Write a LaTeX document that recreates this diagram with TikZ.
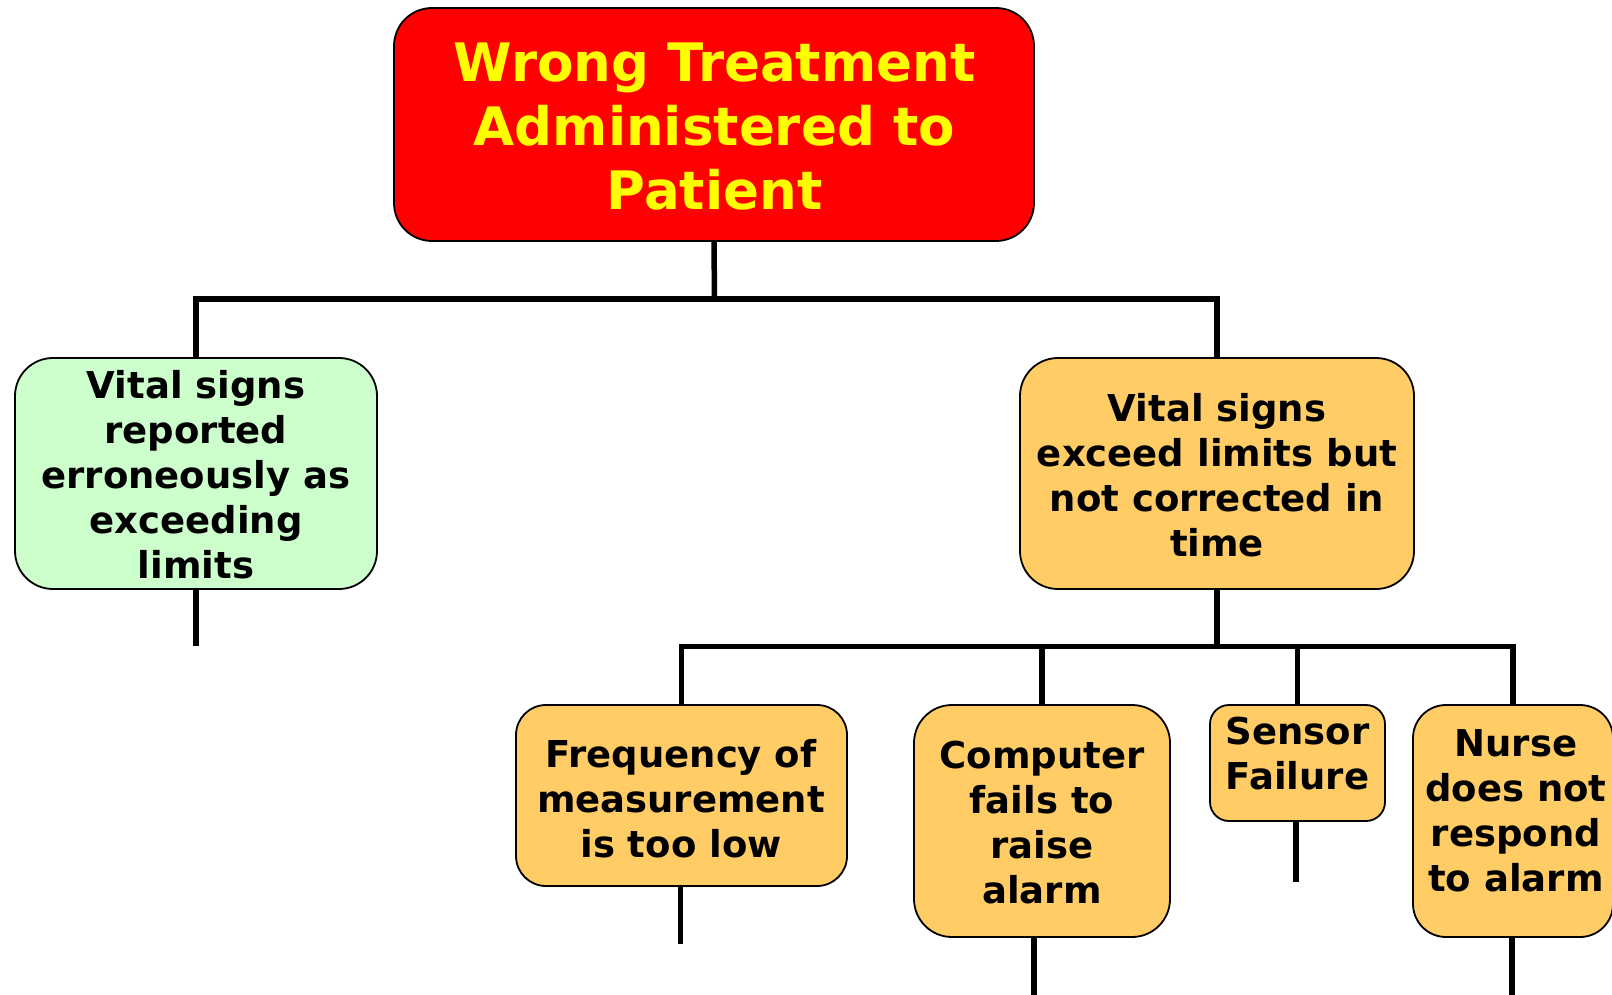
\documentclass[tikz,border=0pt]{standalone}
\usepackage{fontspec}
\setmainfont{DejaVu Sans}
\definecolor{boxred}{HTML}{FF0000}
\definecolor{titleyellow}{HTML}{FFFF00}
\definecolor{boxgreen}{HTML}{CCFFCC}
\definecolor{boxorange}{HTML}{FFCC66}
\tikzset{
  box/.style={draw=black, line width=1.8pt, inner sep=0pt, rectangle},
  txt/.style={align=center, inner sep=0pt, font=\bfseries\fontsize{37}{45}\selectfont},
  titletxt/.style={align=center, inner sep=0pt, text=titleyellow, font=\bfseries\fontsize{53}{64}\selectfont},
  conn/.style={draw=black, line width=5.5pt},
}
\begin{document}
\begin{tikzpicture}[x=1pt,y=-1pt]
\useasboundingbox (0,0) rectangle (1612,995);
% boxes
\node[box, fill=boxred, rounded corners=38pt, minimum width=640pt, minimum height=233pt] (top) at (714,124.5) {};
\node[box, fill=boxgreen, rounded corners=38pt, minimum width=362pt, minimum height=231pt] (left) at (196,473.5) {};
\node[box, fill=boxorange, rounded corners=38pt, minimum width=394pt, minimum height=231pt] (right) at (1217,473.5) {};
\node[box, fill=boxorange, rounded corners=30pt, minimum width=331pt, minimum height=181pt] (freq) at (681.5,795.5) {};
\node[box, fill=boxorange, rounded corners=38pt, minimum width=256pt, minimum height=232pt] (comp) at (1042,821) {};
\node[box, fill=boxorange, rounded corners=19pt, minimum width=175pt, minimum height=116pt] (sensor) at (1297.5,763) {};
\node[box, fill=boxorange, rounded corners=33pt, minimum width=200pt, minimum height=232pt] (nurse) at (1513,821) {};
% texts
\node[titletxt] (toptxt) at (714.5,127) {Wrong Treatment\\Administered to\\Patient};
\node[txt] (lefttxt) at (196,475) {Vital signs\\reported\\erroneously as\\exceeding\\limits};
\node[txt] (righttxt) at (1217,475) {Vital signs\\exceed limits but\\not corrected in\\time};
\node[txt] (freqtxt) at (681,799) {Frequency of\\measurement\\is too low};
\node[txt] (comptxt) at (1042,823) {Computer\\fails to\\raise\\alarm};
\node[txt] (sensortxt) at (1297.5,754) {Sensor\\Failure};
\node[txt] (nursetxt) at (1516,811) {Nurse\\does not\\respond\\to alarm};
% junctions
\coordinate (j1) at (714.5,299);
\coordinate (j2) at (1217,646.5);
\draw[conn] (top.south) -- (j1);
\draw[conn] (left.north) |- (j1);
\draw[conn] (right.north) |- (j1);
\draw[conn] (right.south) -- (j2);
\draw[conn] (freq.north) |- (j2);
\draw[conn] (comp.north) |- (j2);
\draw[conn] (sensor.north) |- (j2);
\draw[conn] (nurse.north) |- (j2);
% stubs
\coordinate (sl) at (196,646);
\coordinate (sf) at (680.5,944);
\coordinate (sc) at (1034,995);
\coordinate (ss) at (1296,882);
\coordinate (sn) at (1512,995);
\draw[conn] (left.south) -- (sl);
\draw[conn] (freq.south -| sf) -- (sf);
\draw[conn] (comp.south -| sc) -- (sc);
\draw[conn] (sensor.south -| ss) -- (ss);
\draw[conn] (nurse.south -| sn) -- (sn);
\end{tikzpicture}
\end{document}
